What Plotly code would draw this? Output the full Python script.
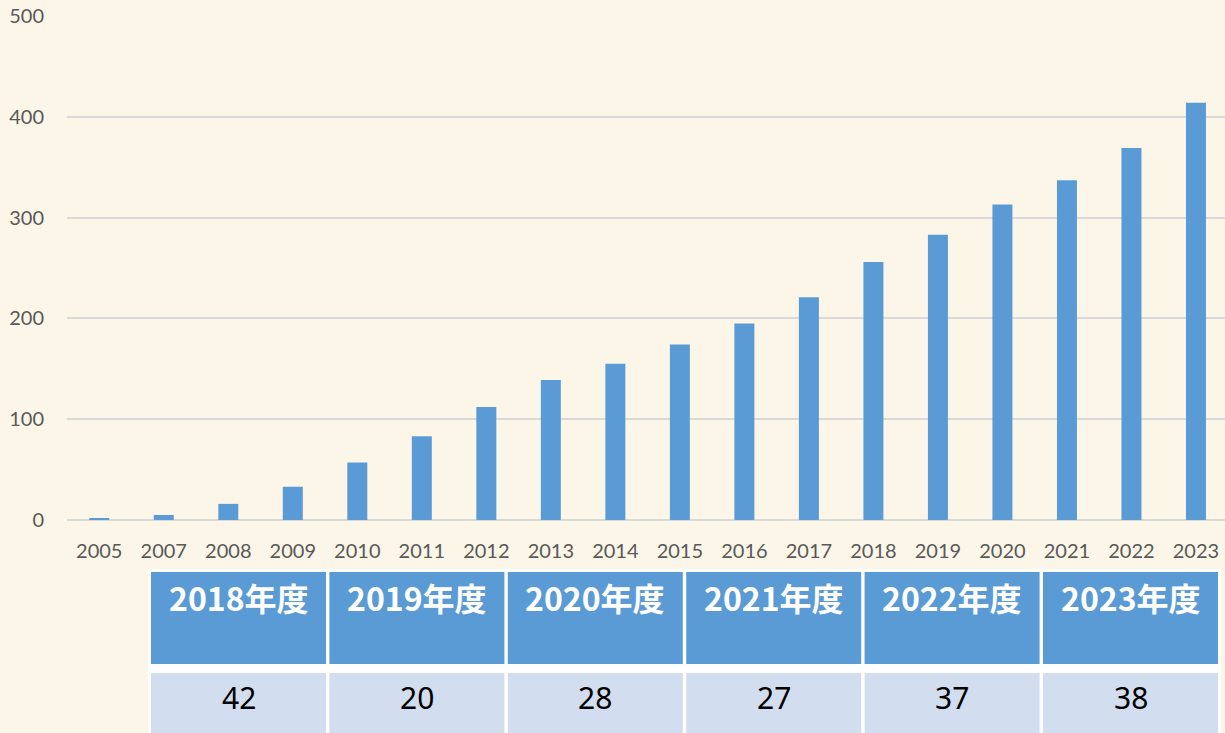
import plotly.graph_objects as go

years = ["2005", "2007", "2008", "2009", "2010", "2011", "2012", "2013", "2014",
         "2015", "2016", "2017", "2018", "2019", "2020", "2021", "2022", "2023"]
totals = [1, 5, 16, 33, 57, 83, 112, 139, 155, 174, 195, 221, 256, 283, 313, 337, 369, 414]

table_years = ["2018年度", "2019年度", "2020年度", "2021年度", "2022年度", "2023年度"]
table_values = [42, 20, 28, 27, 37, 38]

BG = "#FCF6E9"
BLUE = "#5B9BD5"
LIGHT = "#D2DEEF"

W, H = 1225, 733
ML, MR, MT, MB = 67, 0, 16, 213
PW, PH = W - ML - MR, H - MT - MB


def px_x(x):
    return (x - ML) / PW


def px_y(y):
    return (H - MB - y) / PH


fig = go.Figure()
fig.add_trace(go.Bar(x=years, y=totals, marker=dict(color=BLUE, line=dict(width=0)),
                     showlegend=False, hoverinfo="x+y"))

shapes = []
annotations = []
# white table backing
shapes.append(dict(type="rect", xref="paper", yref="paper", layer="above",
                   x0=px_x(148), x1=px_x(1221), y0=px_y(740), y1=px_y(569),
                   fillcolor="white", line=dict(width=0)))
col0, pitch, cw = 151, 178.4, 175
for i, (lab, val) in enumerate(zip(table_years, table_values)):
    x0 = col0 + i * pitch
    x1 = x0 + cw
    shapes.append(dict(type="rect", xref="paper", yref="paper", layer="above",
                       x0=px_x(x0), x1=px_x(x1), y0=px_y(664), y1=px_y(572),
                       fillcolor=BLUE, line=dict(width=0)))
    shapes.append(dict(type="rect", xref="paper", yref="paper", layer="above",
                       x0=px_x(x0), x1=px_x(x1), y0=px_y(740), y1=px_y(673),
                       fillcolor=LIGHT, line=dict(width=0)))
    annotations.append(dict(xref="paper", yref="paper", x=px_x((x0 + x1) / 2), y=px_y(597),
                            text=f"<b>{lab}</b>", showarrow=False, xanchor="center",
                            yanchor="middle",
                            font=dict(family="Noto Sans CJK JP", size=32, color="white")))
    annotations.append(dict(xref="paper", yref="paper", x=px_x((x0 + x1) / 2), y=px_y(697),
                            text=str(val), showarrow=False, xanchor="center",
                            yanchor="middle",
                            font=dict(family="Noto Sans", size=30, color="black")))

fig.update_layout(
    width=W, height=H,
    margin=dict(l=ML, r=MR, t=MT, b=MB),
    paper_bgcolor=BG, plot_bgcolor=BG,
    bargap=0.69,
    font=dict(family="Lato", color="#595959"),
    shapes=shapes, annotations=annotations,
    xaxis=dict(type="category", range=[-0.5, 17.45], showgrid=False, showline=False,
               ticks="", tickfont=dict(size=20, color="#595959"), ticklabelstandoff=17,
               fixedrange=True),
    yaxis=dict(range=[0, 500], dtick=100, showgrid=True,
               gridcolor="#D9D9D9", gridwidth=2, zeroline=True, zerolinecolor="#D9D9D9",
               zerolinewidth=2, ticks="", tickfont=dict(size=20, color="#595959"),
               ticklabelstandoff=22, fixedrange=True),
)

fig.write_html("out.html", config={"displayModeBar": False},
               post_script="document.body.style.margin='0px';document.body.style.overflow='hidden';")
